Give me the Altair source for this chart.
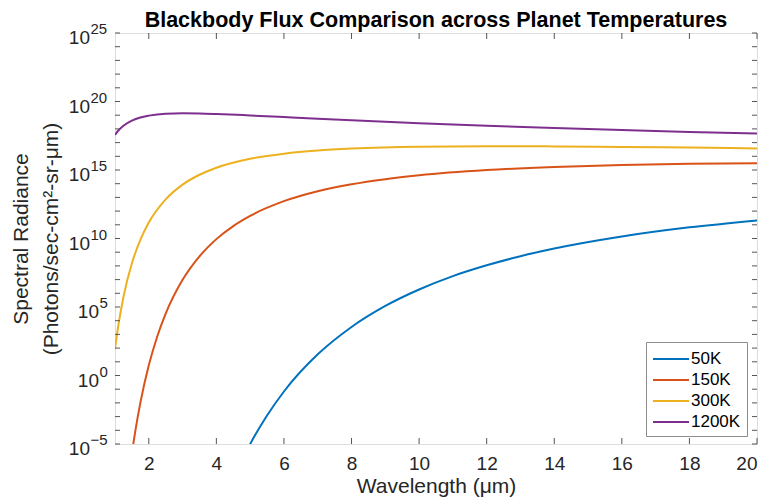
import altair as alt
import pandas as pd

# ---- data ----
temps = ["50K", "150K", "300K", "1200K"]
colors = ["#0072BD", "#D95319", "#EDB120", "#7E2F8E"]

wl_50 = [4.5, 5, 5.5, 6, 7, 8, 9, 10, 11, 12, 13, 14, 16, 18, 20]
rad_50 = [2.5e-8, 9.8e-6, 1.2e-3, 6.8e-2, 35, 3.5e3, 1.2e5, 1.9e6, 1.8e7,
          1.1e8, 5.1e8, 1.85e9, 1.4e10, 6.5e10, 2.1e11]

wl_150 = [1.4, 1.5, 1.6, 1.75, 2, 2.25, 2.5, 3, 3.5, 4, 4.5, 5, 6, 7, 8, 9,
          10, 12, 14, 16, 18, 20]
rad_150 = [2.8e-8, 2.0e-6, 8.4e-5, 1.0e-2, 5.5, 7.1e2, 3.3e4, 9.6e6, 5.0e8,
           9.0e9, 8.1e10, 4.5e11, 5.3e12, 2.8e13, 9.1e13, 2.15e14, 4.1e14,
           9.8e14, 1.66e15, 2.3e15, 2.8e15, 3.1e15]

wl_300 = [1, 1.1, 1.25, 1.5, 1.75, 2, 2.5, 3, 3.5, 4, 5, 6, 7, 8, 10, 12, 14,
          16, 18, 20]
rad_300 = [89, 4.7e3, 5.4e5, 1.55e8, 7.9e9, 1.45e11, 7.1e12, 8.5e13, 4.5e14,
           1.46e15, 6.6e15, 1.56e16, 2.65e16, 3.65e16, 5.0e16, 5.4e16, 5.3e16,
           4.8e16, 4.3e16, 3.75e16]

wl_1200 = [1, 1.1, 1.25, 1.5, 1.75, 2, 2.5, 3, 3.5, 4, 5, 6, 7, 8, 10, 12, 14,
           16, 18, 20]
rad_1200 = [3.7e17, 7.6e17, 1.7e18, 4.0e18, 6.8e18, 9.3e18, 1.3e19, 1.4e19,
            1.35e19, 1.23e19, 9.6e18, 7.3e18, 5.5e18, 4.2e18, 2.6e18, 1.7e18,
            1.15e18, 8.2e17, 6.0e17, 4.6e17]

x_ticks = [2, 4, 6, 8, 10, 12, 14, 16, 18, 20]
y_major = [1e-5, 1e0, 1e5, 1e10, 1e15, 1e20, 1e25]
y_major_exp = ["\u22125", "0", "5", "10", "15", "20", "25"]
y_minor = [10.0 ** k for k in range(-5, 26)]

rows = []
for t, wl, rad in [("50K", wl_50, rad_50), ("150K", wl_150, rad_150),
                   ("300K", wl_300, rad_300), ("1200K", wl_1200, rad_1200)]:
    for w, r in zip(wl, rad):
        rows.append({"wavelength": w, "radiance": r, "temp": t})
df = pd.DataFrame(rows)

W, H = 642, 411
FONT = "Liberation Sans"
TXT = "#262626"

xscale = alt.Scale(domain=[1, 20], nice=False, zero=False)
yscale = alt.Scale(type="log", domain=[1e-5, 1e25], nice=False)

lines = alt.Chart(df).mark_line(clip=True, strokeWidth=2, interpolate="monotone").encode(
    x=alt.X("wavelength:Q", scale=xscale,
            axis=alt.Axis(values=x_ticks, title="Wavelength (μm)", ticks=False,
                          domain=False, grid=False, labelFontSize=19,
                          titleFontSize=21, titleFontWeight="normal",
                          labelPadding=10, titlePadding=2, labelColor=TXT,
                          titleColor=TXT, labelFont=FONT, titleFont=FONT)),
    y=alt.Y("radiance:Q", scale=yscale,
            axis=alt.Axis(values=y_major, labels=False, ticks=False,
                          domain=False, grid=False,
                          title=["Spectral Radiance", "(Photons/sec-cm²-sr-μm)"],
                          titleFontSize=21, titleFontWeight="normal",
                          titleColor=TXT, titleFont=FONT,
                          titleLineHeight=30, titleX=-105, titleY=H / 2,
                          titleAngle=-90, titleAlign="center",
                          titleBaseline="top")),
    color=alt.Color("temp:N", sort=temps,
                    scale=alt.Scale(domain=temps, range=colors),
                    legend=alt.Legend(title=None, orient="none", legendX=531,
                                      legendY=309,
                                      symbolType="M-1.8,0L1.8,0",
                                      symbolSize=400, symbolStrokeWidth=2,
                                      symbolOffset=8, labelOffset=9,
                                      labelFontSize=17, labelFont=FONT,
                                      labelColor="#000000",
                                      strokeColor="#8c8c8c", fillColor="white",
                                      padding=6, rowPadding=2)),
)

ylab = pd.DataFrame({"v": y_major, "e": y_major_exp})
ylab["n"] = ylab["e"].str.len()

def tick_labels(nchar, x10):
    base = alt.Chart(ylab).transform_filter(f"datum.n == {nchar}")
    ten = base.mark_text(align="right", baseline="alphabetic", dy=11,
                         fontSize=19, font=FONT, color=TXT).encode(
        y=alt.Y("v:Q", scale=yscale), x=alt.value(x10), text=alt.value("10"))
    ex = base.mark_text(align="left", baseline="alphabetic", dy=1,
                        fontSize=15, font=FONT, color=TXT).encode(
        y=alt.Y("v:Q", scale=yscale), x=alt.value(x10 + 0.5), text="e:N")
    return [ten, ex]

xt = pd.DataFrame({"x": x_ticks})
yt = pd.DataFrame({"y": y_minor})
tick_col = "#555555"

xb = alt.Chart(xt).mark_rule(color=tick_col, strokeWidth=1).encode(
    x=alt.X("x:Q", scale=xscale), y=alt.value(H), y2=alt.value(H - 6))
xtop = alt.Chart(xt).mark_rule(color=tick_col, strokeWidth=1).encode(
    x=alt.X("x:Q", scale=xscale), y=alt.value(0), y2=alt.value(6))
yl = alt.Chart(yt).mark_rule(color=tick_col, strokeWidth=1).encode(
    y=alt.Y("y:Q", scale=yscale), x=alt.value(0), x2=alt.value(5))
yr = alt.Chart(yt).mark_rule(color=tick_col, strokeWidth=1).encode(
    y=alt.Y("y:Q", scale=yscale), x=alt.value(W), x2=alt.value(W - 5))

layers = [lines, xb, xtop, yl, yr] + tick_labels(1, -16) + tick_labels(2, -25)

chart = alt.layer(*layers).properties(
    width=W, height=H,
    title=alt.TitleParams("Blackbody Flux Comparison across Planet Temperatures",
                          fontSize=21.5, fontWeight="bold", font=FONT,
                          anchor="middle", offset=-19, baseline="alphabetic",
                          dy=7, color="#000000"),
    autosize=alt.AutoSizeParams(type="none"),
    padding={"left": 115, "top": 33, "right": 15, "bottom": 60},
).configure_view(stroke="#555555", strokeWidth=1).configure(background="white")

chart.save("out.html", embed_options={"renderer": "svg", "actions": False})
